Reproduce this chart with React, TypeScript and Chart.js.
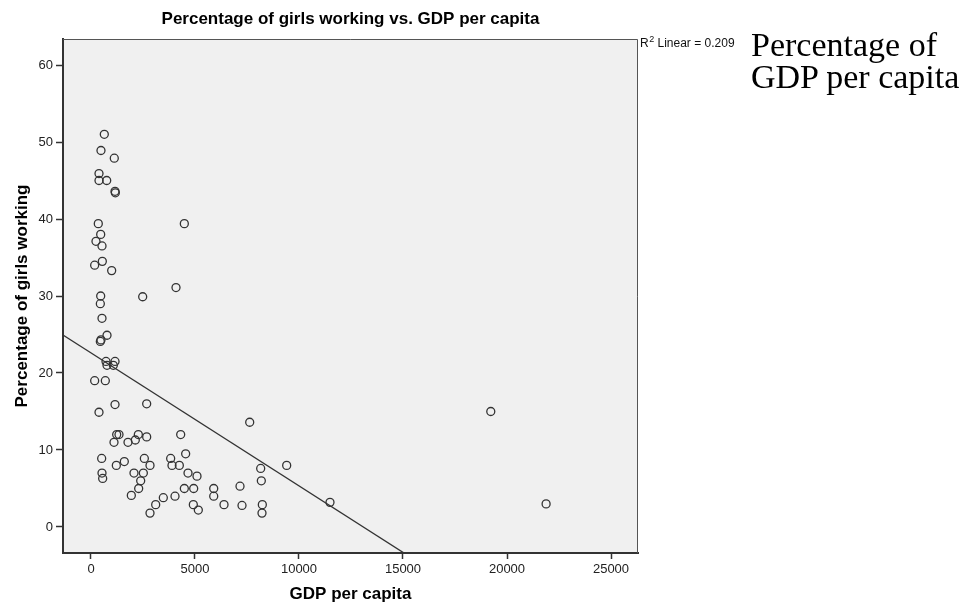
import React, { useEffect, useRef } from "react";
import { Chart, registerables } from "chart.js";

Chart.register(...registerables);

// GDP per capita (x) and percentage of girls working (y)
const gdpPerCapita: number[] = [
  640, 480, 1120, 385, 385, 755, 1155, 1170, 351, 4487,
  466, 240, 529, 545, 176, 994, 466, 449, 2485, 4087,
  529, 770, 449, 480, 722, 1155, 770, 1074, 176, 689,
  1155, 2677, 385, 7630, 1235, 1346, 2276, 4312, 1106, 1779,
  2131, 2677, 513, 1602, 1218, 2565, 2837, 2067, 2517, 529,
  561, 2389, 2292, 1939, 3830, 3894, 4247, 4551, 4664, 5096,
  4487, 4937, 4039, 3477, 3110, 2837, 4920, 5160, 5900, 5900,
  6395, 7164, 7260, 9408, 8158, 8189, 8237, 8221, 11490, 19220,
  21880,
];
const girlsWorking: number[] = [
  51.0, 48.9, 47.9, 45.9, 45.0, 45.0, 43.6, 43.4, 39.4, 39.4,
  38.0, 37.1, 36.5, 34.5, 34.0, 33.3, 30.0, 29.0, 29.9, 31.1,
  27.1, 24.9, 24.1, 24.3, 21.5, 21.5, 21.0, 21.0, 19.0, 19.0,
  15.9, 16.0, 14.9, 13.6, 12.0, 12.0, 12.0, 12.0, 11.0, 11.0,
  11.3, 11.7, 8.9, 8.5, 8.0, 8.9, 8.0, 7.0, 7.0, 7.0,
  6.3, 6.0, 5.0, 4.1, 8.9, 8.0, 8.0, 9.5, 7.0, 6.6,
  5.0, 5.0, 4.0, 3.8, 2.9, 1.8, 2.9, 2.2, 5.0, 4.0,
  2.9, 5.3, 2.8, 8.0, 7.6, 6.0, 2.9, 1.8, 3.2, 15.0,
  3.0,
];

// Linear fit shown in the reference
const fitIntercept = 22.615;
const fitSlope = -0.0017275;
const r2Prefix = "R";
const r2Sup = "2";
const r2Rest = " Linear = 0.209";

const xMin = -1346;
const xMax = 26298;
const yMin = -3.38;
const yMax = 63.38;
const xTicks: number[] = [0, 5000, 10000, 15000, 20000, 25000];
const yTicks: number[] = [0, 10, 20, 30, 40, 50, 60];

const chartTitle = "Percentage of girls working vs. GDP per capita";
const xTitle = "GDP per capita";
const yTitle = "Percentage of girls working";
const sideText: string[] = ["Percentage of", "GDP per capita"];

const SANS = "'Liberation Sans', Arial, sans-serif";

export default function App() {
  const ref = useRef<HTMLCanvasElement | null>(null);

  useEffect(() => {
    if (!ref.current) return;
    const points = gdpPerCapita.map((x, i) => ({ x, y: girlsWorking[i] }));
    const fitLine = [
      { x: xMin, y: fitIntercept + fitSlope * xMin },
      { x: xMax, y: fitIntercept + fitSlope * xMax },
    ];

    const decor = {
      id: "decor",
      beforeDraw(chart: any) {
        const { ctx, chartArea: a } = chart;
        ctx.save();
        ctx.fillStyle = "#f0f0f0";
        ctx.fillRect(a.left, a.top, a.right - a.left, a.bottom - a.top);
        ctx.restore();
      },
      afterDraw(chart: any) {
        const { ctx, chartArea: a } = chart;
        ctx.save();
        ctx.strokeStyle = "#555";
        ctx.lineWidth = 1;
        ctx.beginPath();
        ctx.moveTo(a.left, a.top + 0.5);
        ctx.lineTo(a.right - 0.5, a.top + 0.5);
        ctx.lineTo(a.right - 0.5, a.bottom);
        ctx.stroke();
        ctx.fillStyle = "#000";
        ctx.font = `bold 17px ${SANS}`;
        ctx.textAlign = "center";
        ctx.textBaseline = "alphabetic";
        ctx.fillText(chartTitle, (a.left + a.right) / 2, 24);
        // R² label
        ctx.textAlign = "left";
        ctx.fillStyle = "#111";
        let x = a.right + 2;
        const base = 47;
        ctx.font = `12px ${SANS}`;
        ctx.fillText(r2Prefix, x, base);
        x += ctx.measureText(r2Prefix).width + 0.5;
        ctx.font = `9px ${SANS}`;
        ctx.fillText(r2Sup, x, base - 5);
        x += ctx.measureText(r2Sup).width;
        ctx.font = `12px ${SANS}`;
        ctx.fillText(r2Rest, x, base);
        ctx.restore();
      },
    };

    const chart = new Chart(ref.current, {
      type: "scatter",
      data: {
        datasets: [
          {
            type: "scatter",
            data: points,
            pointStyle: "circle",
            pointRadius: 4,
            pointBorderWidth: 1.3,
            pointBorderColor: "#333",
            pointBackgroundColor: "rgba(0,0,0,0)",
            order: 1,
          },
          {
            type: "line",
            data: fitLine,
            borderColor: "#333",
            borderWidth: 1.3,
            pointRadius: 0,
            fill: false,
            order: 2,
          } as any,
        ],
      },
      plugins: [decor],
      options: {
        responsive: false,
        animation: false,
        devicePixelRatio: 1,
        layout: { padding: { top: 39, right: 330, left: 0, bottom: 0 } },
        plugins: {
          legend: { display: false },
          title: { display: false },
          tooltip: { enabled: false },
        },
        scales: {
          x: {
            type: "linear",
            min: xMin,
            max: xMax,
            afterFit(scale: any) {
              scale.height = 54;
            },
            afterBuildTicks(scale: any) {
              scale.ticks = xTicks.map((v) => ({ value: v }));
            },
            ticks: {
              includeBounds: false,
              font: { family: SANS, size: 13 },
              color: "#222",
              padding: 3,
              maxRotation: 0,
              callback: (v: any) => String(v),
            },
            grid: {
              drawOnChartArea: false,
              drawTicks: true,
              tickLength: 6,
              tickColor: "#333",
              tickWidth: 1.5,
            },
            border: { display: true, color: "#333", width: 2 },
            title: {
              display: true,
              text: xTitle,
              font: { family: SANS, size: 17, weight: "bold" },
              color: "#000",
              padding: { top: 0, bottom: 2 },
            },
          },
          y: {
            type: "linear",
            min: yMin,
            max: yMax,
            afterFit(scale: any) {
              scale.width = 63;
            },
            afterBuildTicks(scale: any) {
              scale.ticks = yTicks.map((v) => ({ value: v }));
            },
            ticks: {
              includeBounds: false,
              font: { family: SANS, size: 13 },
              color: "#222",
              padding: 3,
              callback: (v: any) => String(v),
            },
            grid: {
              drawOnChartArea: false,
              drawTicks: true,
              tickLength: 7,
              tickColor: "#333",
              tickWidth: 1.5,
            },
            border: { display: true, color: "#333", width: 2 },
            title: {
              display: true,
              text: yTitle,
              font: { family: SANS, size: 17, weight: "bold" },
              color: "#000",
              padding: { top: 12, bottom: 0 },
            },
          },
        },
      },
    });
    return () => chart.destroy();
  }, []);

  return (
    <div style={{ position: "absolute", left: 0, top: 0, width: 968, height: 607, background: "#fff" }}>
      <canvas ref={ref} width={968} height={607} style={{ display: "block", width: 968, height: 607 }} />
      <div
        style={{
          position: "absolute",
          left: 751,
          top: 29,
          fontFamily: "'Liberation Serif', 'Times New Roman', serif",
          fontSize: 34,
          lineHeight: "32px",
          color: "#000",
          whiteSpace: "nowrap",
        }}
      >
        {sideText.map((t, i) => (
          <div key={i}>{t}</div>
        ))}
      </div>
    </div>
  );
}
